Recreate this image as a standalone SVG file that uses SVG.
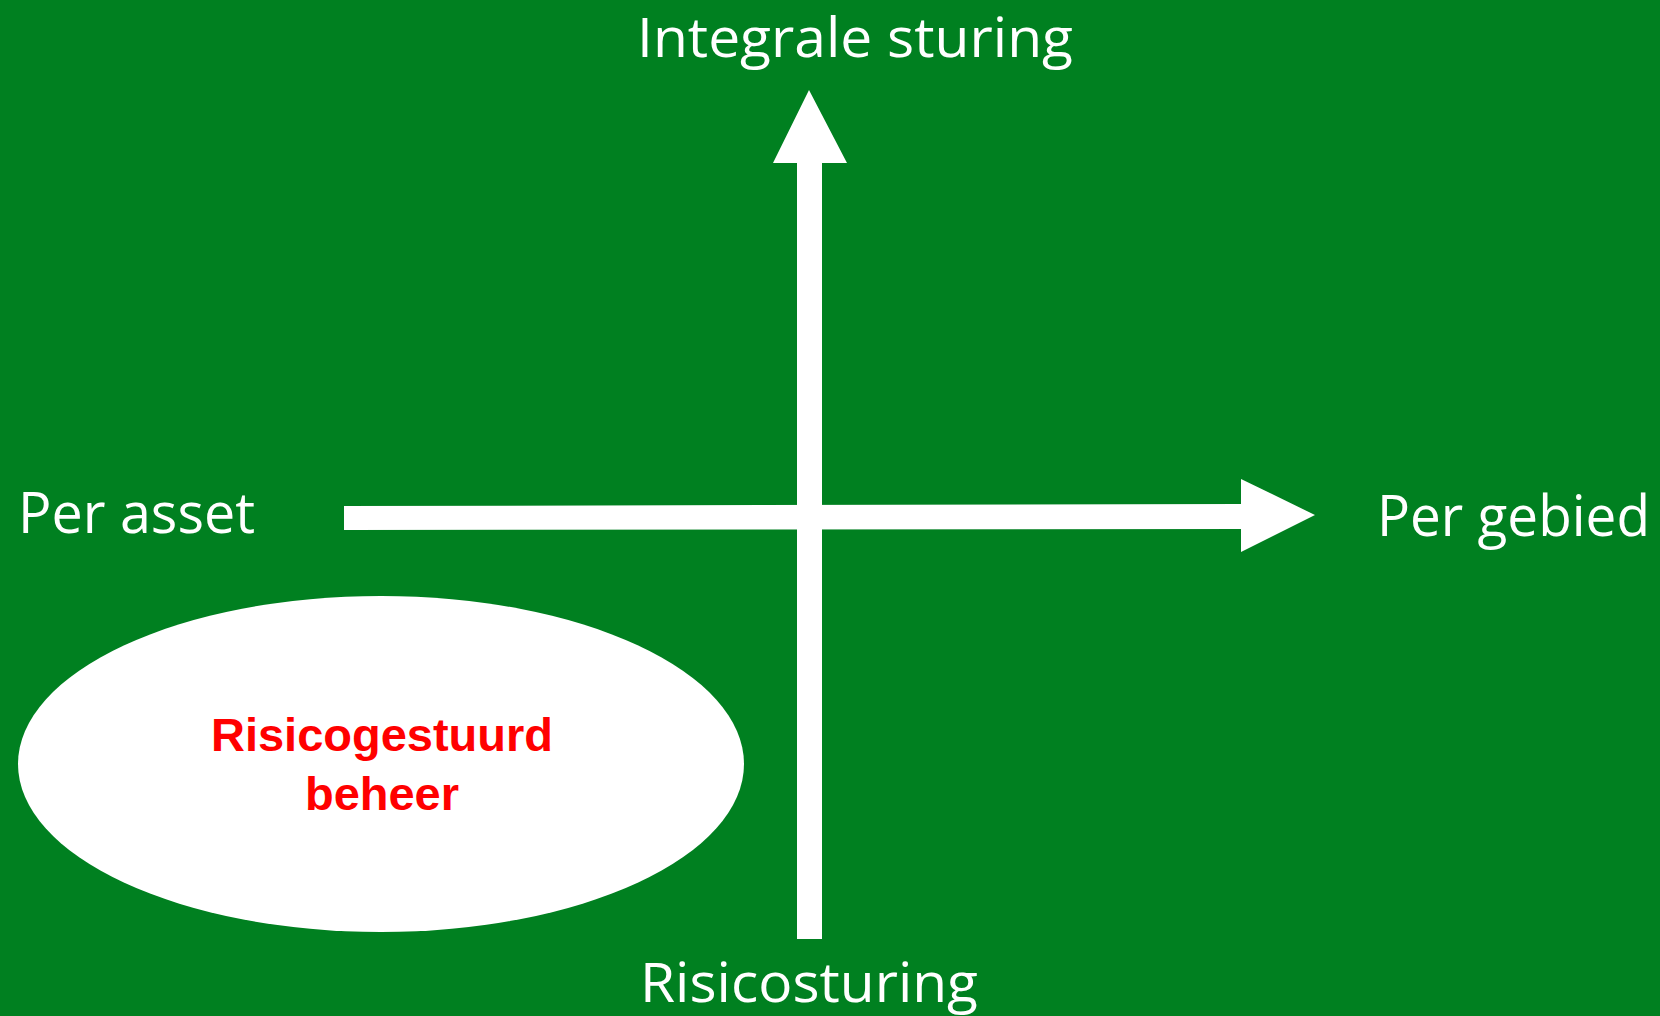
<svg xmlns="http://www.w3.org/2000/svg" width="1660" height="1016" viewBox="0 0 1660 1016">
<style>
.lbl{font-family:"Open Sans","Liberation Sans",sans-serif;font-size:56px;fill:#ffffff}
.edge{font-size:54px}
.inner{font-family:"Liberation Sans",Arial,sans-serif;font-size:47px;font-weight:bold;fill:#ff0000;text-anchor:middle}
.arrow{fill:#ffffff}
</style>
<rect x="0" y="0" width="1660" height="1016" fill="#008020"/>
<g id="connectors">
<polygon class="arrow" points="797,939 822,939 822,163 847,163 809,90 773,163 797,163"/>
<polygon class="arrow" points="344,506 1241,504 1241,479 1315,515 1241,552 1241,529 344,530"/>
</g>
<g id="node-integrale"><text class="lbl edge" x="637" y="57" textLength="436" lengthAdjust="spacingAndGlyphs">Integrale sturing</text></g>
<g id="node-perasset"><text class="lbl" x="18" y="533" textLength="237" lengthAdjust="spacingAndGlyphs">Per asset</text></g>
<g id="node-pergebied"><text class="lbl" x="1377" y="536" textLength="273" lengthAdjust="spacingAndGlyphs">Per gebied</text></g>
<g id="node-risicosturing"><text class="lbl edge" x="640" y="1002" textLength="338" lengthAdjust="spacingAndGlyphs">Risicosturing</text></g>
<g id="node-risicogestuurd">
<ellipse cx="381" cy="764" rx="363" ry="168" fill="#ffffff"/>
<text class="inner" x="382" y="751">Risicogestuurd</text>
<text class="inner" x="382" y="810">beheer</text>
</g>
</svg>
